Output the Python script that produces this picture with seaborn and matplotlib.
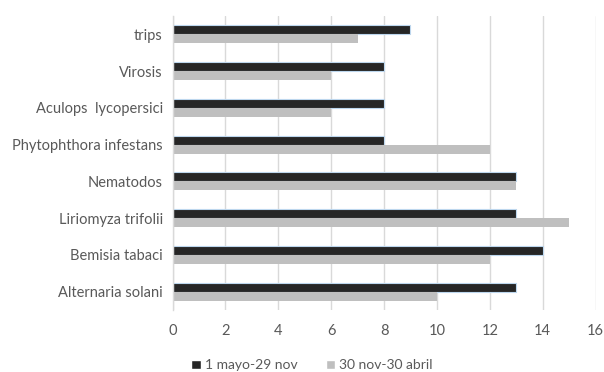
import matplotlib
matplotlib.use("Agg")
import matplotlib.pyplot as plt
import seaborn as sns
import pandas as pd

categories = ["trips", "Virosis", "Aculops  lycopersici", "Phytophthora infestans",
              "Nematodos", "Liriomyza trifolii", "Bemisia tabaci", "Alternaria solani"]
series_names = ["1 mayo-29 nov", "30 nov-30 abril"]
values_may_nov = [9, 8, 8, 8, 13, 13, 14, 13]
values_nov_apr = [7, 6, 6, 12, 13, 15, 12, 10]
x_ticks = [0, 2, 4, 6, 8, 10, 12, 14, 16]

df = pd.DataFrame({
    "categoria": categories * 2,
    "valor": values_may_nov + values_nov_apr,
    "periodo": [series_names[0]] * len(categories) + [series_names[1]] * len(categories),
})

sns.set_theme(style="white")
plt.rcParams["font.family"] = ["Lato", "DejaVu Sans"]

fig = plt.figure(figsize=(6.04, 3.72), dpi=100)
ax = fig.add_axes([0.2856, 0.1667, 0.7004, 0.7903])

palette = {series_names[0]: "#262626", series_names[1]: "#bfbfbf"}
sns.barplot(data=df, y="categoria", x="valor", hue="periodo", order=categories,
            hue_order=series_names, palette=palette, orient="h", width=0.49,
            saturation=1, ax=ax, legend=True)

# light outline on the dark series only
n = len(categories)
for i, p in enumerate(ax.patches[:2 * n]):
    if i < n:
        p.set_edgecolor("#bdd7ee")
        p.set_linewidth(0.8)
    else:
        p.set_edgecolor("none")

ax.set_xlim(0, 16)
ax.set_xticks(x_ticks)
ax.set_xticklabels([str(t) for t in x_ticks])
ax.set_xlabel("")
ax.set_ylabel("")
ax.xaxis.grid(True, color="#d9d9d9", linewidth=1.0)
ax.yaxis.grid(False)
ax.set_axisbelow(True)
for side in ["top", "right", "bottom"]:
    ax.spines[side].set_visible(False)
ax.spines["left"].set_color("#d9d9d9")
ax.spines["left"].set_linewidth(1.0)
ax.tick_params(axis="both", length=0, colors="#595959", labelsize=10.5)
ax.tick_params(axis="x", pad=10)
ax.tick_params(axis="y", pad=7)

handles, labels = ax.get_legend_handles_labels()
ax.legend(handles, labels, loc="upper center", bbox_to_anchor=(0.33, -0.125),
          ncol=2, frameon=False, fontsize=10, handlelength=0.7, handleheight=0.7,
          handletextpad=0.3, columnspacing=2.0, labelcolor="#595959")

fig.savefig("out.png", dpi=100)
